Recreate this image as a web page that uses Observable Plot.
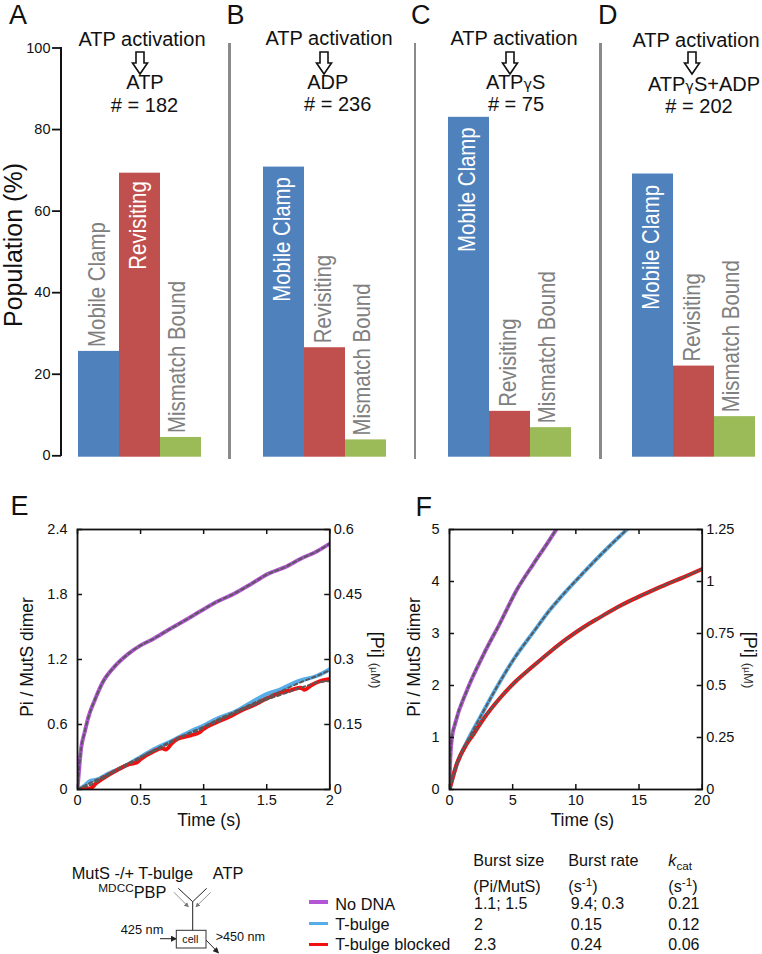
<!DOCTYPE html>
<html><head><meta charset="utf-8">
<script src="https://cdn.jsdelivr.net/npm/d3@7"></script>
<script src="https://cdn.jsdelivr.net/npm/@observablehq/plot@0.6"></script>
<style>
html,body{margin:0;padding:0;background:#fff}
#page{position:relative;width:762px;height:954px;overflow:hidden;font-family:"Liberation Sans",Arial,sans-serif;color:#111}
#page svg{position:absolute;overflow:visible;max-width:none}
.t{position:absolute;white-space:nowrap;line-height:1;transform:translateX(-50%)}
.l{position:absolute;white-space:nowrap;line-height:1}
sup,sub{font-size:.72em;line-height:0}
</style></head><body><div id="page"></div>
<script>
const categories = ["Mobile Clamp","Revisiting","Mismatch Bound"];
const barColors = ["#4f81bd","#c0504d","#9bbb59"];
const valuesA = [25.6,69.3,4.5];
const valuesB = [70.8,26.5,3.9];
const valuesC = [83.0,10.9,6.9];
const valuesD = [69.1,22.0,9.6];
const popTicks = [0,20,40,60,80,100];

const eX = [0,0.03,0.055,0.087,0.135,0.2,0.29,0.4,0.5,0.6,0.715,0.85,0.98,1.1,1.245,1.38,1.51,1.64,1.77,1.9,2];
const eNoDna = [0,0.39,0.52,0.67,0.82,0.99,1.13,1.25,1.33,1.39,1.47,1.56,1.65,1.73,1.81,1.9,1.99,2.05,2.13,2.2,2.27];
const eBulgeX = [0,0.05,0.1,0.15,0.25,0.35,0.5,0.6,0.75,0.9,1,1.1,1.25,1.4,1.5,1.6,1.75,1.9,2];
const eBulge = [0,0.03,0.08,0.09,0.15,0.2,0.3,0.37,0.45,0.54,0.59,0.65,0.72,0.82,0.88,0.92,1.0,1.05,1.11];
const eFitBulge = [0,0.03,0.06,0.09,0.15,0.21,0.3,0.36,0.45,0.53,0.58,0.64,0.72,0.8,0.85,0.9,0.98,1.05,1.1];
const eBlockX = [0,0.05,0.1,0.15,0.2,0.3,0.4,0.47,0.5,0.6,0.67,0.7,0.75,0.8,0.9,0.97,1,1.1,1.2,1.3,1.4,1.5,1.6,1.7,1.77,1.8,1.85,1.9,2];
const eBlock = [0,0.01,0.01,0.06,0.1,0.17,0.23,0.25,0.28,0.35,0.38,0.37,0.43,0.47,0.5,0.53,0.56,0.62,0.67,0.73,0.78,0.84,0.89,0.92,0.94,0.92,0.96,0.99,1.02];
const eFitBlock = [0,0.02,0.04,0.07,0.1,0.17,0.23,0.27,0.29,0.35,0.39,0.41,0.44,0.47,0.52,0.55,0.57,0.62,0.68,0.73,0.78,0.83,0.87,0.91,0.94,0.95,0.97,0.99,1.0];

const fNoDnaX = [0,0.05,0.18,0.45,1.37,2.7,4,5.33,6.65,7.7,8.45];
const fNoDna = [0,0.5,0.97,1.27,1.9,2.6,3.2,3.84,4.34,4.72,5];
const fBulgeX = [0,0.58,1.37,2.43,3.75,5.07,6.65,7.97,9.29,10.6,12.45,14.04];
const fBulge = [0,0.49,0.91,1.39,1.97,2.5,3.03,3.46,3.83,4.17,4.63,5];
const fBlockX = [0,0.58,1.37,1.9,2.7,4,5.33,6.65,7.97,9.29,10.6,11.9,13.25,14.56,15.9,17.2,18.5,20];
const fBlock = [0,0.49,0.88,1.06,1.36,1.76,2.1,2.38,2.65,2.9,3.12,3.31,3.5,3.66,3.81,3.95,4.08,4.24];

const legendNames = ["No DNA","T-bulge","T-bulge blocked"];
const lineColors = ["#b455d6","#56ade8","#f01010"];
const fitColor = "#595959";
const burstSize = ["1.1; 1.5","2","2.3"];
const burstRate = ["9.4; 0.3","0.15","0.24"];
const kcat = ["0.21","0.12","0.06"];

const page = document.getElementById("page");
function place(svg,left,top){svg.style.left=left+"px";svg.style.top=top+"px";page.appendChild(svg);}
function text(cls,html,x,y,size,extra){const d=document.createElement("div");d.className=cls;d.innerHTML=html;d.style.left=x+"px";d.style.top=y+"px";d.style.fontSize=size+"px";if(extra)Object.assign(d.style,extra);page.appendChild(d);return d;}
function hv(x,y,w,h,color){const d=document.createElement("div");Object.assign(d.style,{position:"absolute",left:x+"px",top:y+"px",width:w+"px",height:h+"px",background:color});page.appendChild(d);}

// Bar panels -------------------------------------------------
const FONT = '"Liberation Sans",Arial,sans-serif';
const TOP = 47.5, BOT = 455.3;
const nudge = [-1.5,-1.5,-3.5];
const labelSize = 24, squeeze = 20.4/24;   // the reference's rotated labels are tall and narrow
function barPanel(vals,left,insideIdx,gap){
  const rows = categories.map((c,i)=>({c,v:vals[i],i}));
  const marks = [Plot.barY(rows,{x:"c",y:"v",fill:"c",insetBottom:-1.4})];
  rows.forEach(r=>{
    const inside=r.i===insideIdx;
    marks.push(Plot.text([r],{x:"c",y:"v",text:"c",rotate:-90,textAnchor:inside?"end":"start",
      fill:inside?"#fff":"#808080",fontSize:labelSize,dx:nudge[r.i],dy:inside?gap:-4.5}));
  });
  const p = Plot.plot({
    width:123,height:480,marginLeft:0,marginRight:0,marginTop:TOP,marginBottom:480-BOT,
    style:{fontFamily:FONT,background:"transparent"},
    x:{domain:categories,padding:0,axis:null},
    y:{domain:[0,100],axis:null},
    color:{domain:categories,range:barColors},
    marks
  });
  place(p,left,0);
  p.querySelectorAll("text").forEach(t=>{
    t.setAttribute("textLength",t.getComputedTextLength()*squeeze);
    t.setAttribute("lengthAdjust","spacingAndGlyphs");
  });
}
barPanel(valuesA,78.3,1,8);
barPanel(valuesB,262.7,0,10);
barPanel(valuesC,448.3,0,10);
barPanel(valuesD,632.3,0,11);
// population axis
place(Plot.plot({
  width:62,height:480,marginLeft:61,marginRight:1,marginTop:TOP,marginBottom:480-BOT,
  style:{fontFamily:FONT,background:"transparent"},
  x:{domain:[0,1],axis:null},
  y:{domain:[0,100],axis:null},
  marks:[Plot.axisY({ticks:popTicks,tickSize:9,tickPadding:2,strokeWidth:1.8,fontSize:14.5,label:null,color:"#111",tickFormat:String})]
}),0,0);
hv(60,46.6,2,409.7,"#111");
[228.2,413.6,599.2].forEach(x=>hv(x,43.3,2.4,415.7,"#8a8a8a"));

// titles
[["A",9,1.5],["B",226.5,1.5],["C",411,1.5],["D",598,1.5],["E",10.5,493],["F",415.5,493.5]].forEach(([s,x,y])=>text("l",s,x,y,27));
function head(cx,y0,arrowX,lines){
  text("t","ATP activation",cx,y0,20);
  lines.forEach(([h,x,y])=>text("t",h,x,y,20));
  const svg=d3.create("svg").attr("width",22).attr("height",26)
    .style("left",(arrowX-11)+"px").style("top","51px");
  svg.append("path").attr("d","M7 1H15V12H18.5L11 23L3.5 12H7Z").attr("fill","#fff").attr("stroke","#111").attr("stroke-width",1.6);
  page.appendChild(svg.node());
}
const gam='<span style="font-family:\'DejaVu Sans\';font-size:.72em">γ</span>';
head(142,28.8,140,[["ATP",145,72.4],["# = 182",144.5,94.8]]);
head(329,28,324,[["ADP",327.7,72.4],["# = 236",337.7,94]]);
head(514,28,510,[["ATP"+gam+"S",515.7,72.4],["# = 75",516,94]]);
head(696,30,692,[["ATP"+gam+"S+ADP",704,73.8],["# = 202",699,95.8]]);
const rot=(s,cx,cy,size,r)=>{const d=text("l",s,cx,cy,size,{});d.style.transform=`translate(-50%,-50%) rotate(${r}deg)`;return d;};
rot("Population (%)",13,245,25,-90);

// Line panels -------------------------------------------------
function rows(xs,ys){return xs.map((x,i)=>({x,y:ys[i]}));}
function linePanel(o){
  const marks=[];
  o.series.forEach(s=>{marks.push(Plot.line(rows(s.x,s.y),{x:"x",y:"y",stroke:s.color,strokeWidth:4,curve:"monotone-x",clip:true}));});
  o.fits.forEach(s=>{marks.push(Plot.line(rows(s.x,s.y),{x:"x",y:"y",stroke:fitColor,strokeWidth:2,strokeDasharray:"3.5 3",curve:"monotone-x",clip:true}));});
  const lw=1.5, tx=o.xMax*5/o.w, ty=o.yMax*5/260;  // inward tick length: 5px in data units
  marks.push(Plot.ruleY(o.yTicks,{y:d=>d,x1:0,x2:tx,stroke:"#111",strokeWidth:lw}));
  marks.push(Plot.ruleY(o.yTicks,{y:d=>d,x1:o.xMax-tx,x2:o.xMax,stroke:"#111",strokeWidth:lw}));
  marks.push(Plot.ruleX(o.xTicks,{x:d=>d,y1:0,y2:ty,stroke:"#111",strokeWidth:lw}));
  marks.push(Plot.ruleX(o.xTicks,{x:d=>d,y1:o.yMax-ty,y2:o.yMax,stroke:"#111",strokeWidth:lw}));
  marks.push(Plot.frame({stroke:"#111",strokeWidth:1.8}));
  marks.push(Plot.axisX({ticks:o.xTicks,anchor:"bottom",tickSize:0,tickPadding:5,tickFormat:String,label:null,fontSize:14.5,color:"#111"}));
  marks.push(Plot.axisY({ticks:o.yTicks,anchor:"left",tickSize:0,tickPadding:10,tickFormat:String,label:null,fontSize:14.5,color:"#111"}));
  marks.push(Plot.axisY({ticks:o.yTicks,anchor:"right",tickSize:0,tickPadding:4,tickFormat:d=>String(+(d/4).toFixed(2)),label:null,fontSize:14.5,color:"#111"}));
  const p=Plot.plot({
    width:o.w+80,height:300,marginLeft:40,marginRight:40,marginTop:10,marginBottom:30,
    style:{fontFamily:FONT,background:"transparent"},
    x:{domain:[0,o.xMax],axis:null},
    y:{domain:[0,o.yMax],axis:null},
    marks
  });
  place(p,o.left-40,529-10);
}
linePanel({left:76.5,w:252.3,xMax:2,yMax:2.4,xTicks:[0,0.5,1,1.5,2],yTicks:[0,0.6,1.2,1.8,2.4],
  series:[{x:eBulgeX,y:eBulge,color:lineColors[1]},{x:eX,y:eNoDna,color:lineColors[0]},{x:eBlockX,y:eBlock,color:lineColors[2]}],
  fits:[{x:eX,y:eNoDna},{x:eBulgeX,y:eFitBulge},{x:eBlockX,y:eFitBlock}]});
linePanel({left:449.3,w:252.7,xMax:20,yMax:5,xTicks:[0,5,10,15,20],yTicks:[0,1,2,3,4,5],
  series:[{x:fNoDnaX,y:fNoDna,color:lineColors[0]},{x:fBulgeX,y:fBulge,color:lineColors[1]},{x:fBlockX,y:fBlock,color:lineColors[2]}],
  fits:[{x:fNoDnaX,y:fNoDna},{x:fBulgeX,y:fBulge},{x:fBlockX,y:fBlock}]});

text("t","Time (s)",209,812,17.5);
text("t","Time (s)",582.3,812,17.5);
rot("Pi / MutS dimer",28,656.7,17.5,-90);
rot("Pi / MutS dimer",414.6,656.7,17.5,-90);
const piLab='[Pi] <span style="font-size:13px;color:#333">(<span style="font-family:\'DejaVu Sans\';font-size:.72em">μ</span>M)</span>';
rot(piLab,377,660,18,90);
rot(piLab,750,660,18,90);

// Scheme -------------------------------------------------
text("l","MutS -/+ T-bulge",71.7,865,16.4);
text("l","ATP",212.7,865,16.4);
text("l","<sup>MDCC</sup>PBP",98.3,884.4,16.4);
text("l","425 nm",120.7,923.5,12.8);
text("l",">450 nm",215.7,931.3,12.6);
const sch=d3.create("svg").attr("width",762).attr("height",954).style("left","0").style("top","0");
sch.append("defs").append("marker").attr("id","ah").attr("viewBox","0 0 6 6").attr("refX",5).attr("refY",3).attr("markerWidth",6).attr("markerHeight",6).attr("orient","auto")
  .append("path").attr("d","M0 0L6 3L0 6Z").attr("fill","context-stroke");
const ln=(d,c,w,m)=>{const p=sch.append("path").attr("d",d).attr("fill","none").attr("stroke",c).attr("stroke-width",w);if(m)p.attr("marker-end","url(#ah)");};
ln("M178.3 888.3L192.7 901.7L206.7 888.3","#222",1);
ln("M192.7 901.7V930","#222",1);
ln("M174 892.3L188.3 906.7","#777",.8,true);
ln("M210.7 892.3L196 906.7","#777",.8,true);
ln("M160 938.7H176","#222",1,true);
ln("M206 940L218.3 952.7","#222",1,true);
sch.append("rect").attr("x",176.3).attr("y",930.3).attr("width",29.7).attr("height",17.7).attr("fill","#fff").attr("stroke","#333");
page.appendChild(sch.node());
text("l","cell",182.3,934.2,10.7);

// Legend
legendNames.forEach((n,i)=>{
  hv(309,[902,923.3,944.3][i]-1.7,19.3,3.4,lineColors[i]);
  text("l",n,335.3,[896.2,916.2,936.2][i],16.3);
});
// Table
const cols=[473.3,568.3,668.3];
text("l","Burst size",cols[0],852.3,16.2);
text("l","Burst rate",cols[1],852.3,16.2);
text("l",'<i>k</i><sub>cat</sub>',cols[2],852.3,16.2);
text("l","(Pi/MutS)",cols[0],878,16.2);
text("l","(s<sup>-1</sup>)",cols[1],878,16.2);
text("l","(s<sup>-1</sup>)",cols[2],878,16.2);
burstSize.forEach((s,i)=>{
  const y=[895.8,917.2,937.2][i];
  text("l",s,cols[0]+.7,y,16);
  text("l",burstRate[i],570.7,y,16);
  text("l",kcat[i],cols[2],y,16);
});
</script></body></html>
